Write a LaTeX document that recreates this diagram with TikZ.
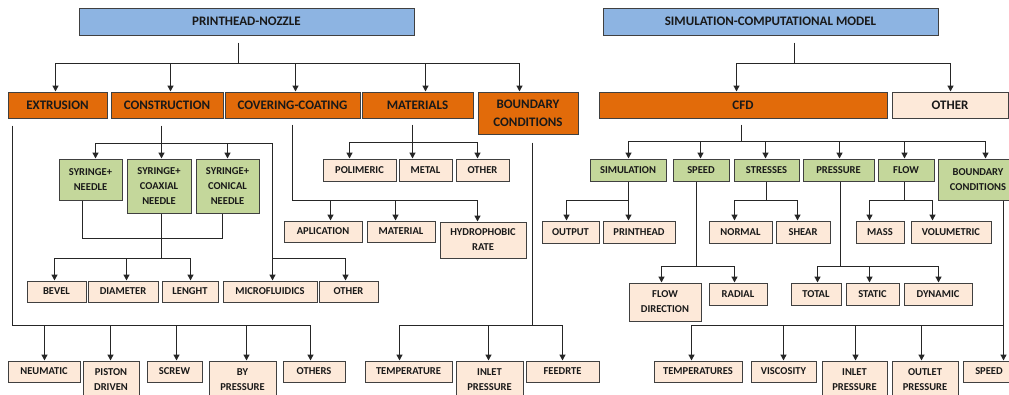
\documentclass[tikz,border=0pt]{standalone}
\usepackage{fontspec}
\setmainfont{Carlito}
\usetikzlibrary{calc,arrows.meta}
\definecolor{hblue}{HTML}{8DB4E2}
\definecolor{horange}{HTML}{E26B0A}
\definecolor{hgreen}{HTML}{C4D79B}
\definecolor{hpeach}{HTML}{FDE9D9}
\definecolor{bcol}{HTML}{404040}
\newcommand\hfont{\fontsize{9.75}{13.5}\selectfont\bfseries}
\newcommand\sfont{\fontsize{7.9}{11.25}\selectfont\bfseries}
\tikzset{
  box/.style={draw=bcol,line width=0.75pt,inner sep=0pt,align=center,text=black!90},
  head/.style={box,fill=hblue,font=\hfont},
  orange/.style={box,fill=horange,font=\hfont},
  peachbig/.style={box,fill=hpeach,font=\hfont},
  green/.style={box,fill=hgreen,font=\sfont},
  peach/.style={box,fill=hpeach,font=\sfont},
  line/.style={draw=black!85,line width=1pt},
  arr/.style={line,-{Triangle[length=4.5pt,width=4.5pt]}}
}
\newcommand\mybox[7][]{%
  \node[#1,minimum width={(#5-#3)*0.75pt},minimum height={(#6-#4)*0.75pt}] (#2) at ({(#3+#5)/2},{(#4+#6)/2}) {#7};
  \expandafter\xdef\csname bxx@#2\endcsname{#3}%
  \expandafter\xdef\csname bxy@#2\endcsname{#6}%
}
\newcommand\dropline[5]{%
  \edef\bxX{\csname bxx@#1\endcsname}\edef\bxY{\csname bxy@#1\endcsname}%
  \coordinate (#4) at ($(#1.south west)+({#2-\bxX},{#5-\bxY})$);
  \draw[line] ($(#1.south west)+({#2-\bxX},{#3-\bxY})$) -- (#4);
}
\newcommand\tochild[3]{%
  \edef\bxX{\csname bxx@#2\endcsname}%
  \draw[arr] (#1) -| ($(#2.north west)+({#3-\bxX},0)$);
}
\begin{document}
\begin{tikzpicture}[x=0.75pt,y=-0.75pt]
\useasboundingbox (0,0) rectangle (1009,394);
% ---------- left tree ----------
\mybox[head]{ph}{79}{8}{414}{35}{PRINTHEAD-NOZZLE}
\mybox[orange]{ext}{8}{92}{107}{118}{EXTRUSION}
\mybox[orange]{con}{111}{92}{223}{118}{CONSTRUCTION}
\mybox[orange]{cov}{225}{92}{360}{118}{COVERING-COATING}
\mybox[orange]{mat}{362}{92}{473}{118}{MATERIALS}
\mybox[orange]{bcl}{478}{92}{578}{134}{BOUNDARY\\CONDITIONS}
\mybox[green]{sn}{59}{159}{122}{200}{SYRINGE+\\NEEDLE}
\mybox[green]{sc}{127}{159}{191}{213}{SYRINGE+\\COAXIAL\\NEEDLE}
\mybox[green]{scn}{196}{159}{259}{213}{SYRINGE+\\CONICAL\\NEEDLE}
\mybox[peach]{pol}{323}{159}{396}{181}{POLIMERIC}
\mybox[peach]{met}{399}{159}{452}{181}{METAL}
\mybox[peach]{otm}{456}{159}{509}{181}{OTHER}
\mybox[peach]{apl}{284}{221}{362}{242}{APLICATION}
\mybox[peach]{mtl}{367}{221}{435}{242}{MATERIAL}
\mybox[peach]{hyd}{440}{222}{526}{258}{HYDROPHOBIC\\RATE}
\mybox[peach]{bev}{27}{281}{86}{302}{BEVEL}
\mybox[peach]{dia}{88}{281}{158}{302}{DIAMETER}
\mybox[peach]{len}{162}{281}{218}{302}{LENGHT}
\mybox[peach]{mic}{223}{281}{317}{302}{MICROFLUIDICS}
\mybox[peach]{otc}{319}{281}{378}{302}{OTHER}
\mybox[peach]{neu}{8}{361}{80}{382}{NEUMATIC}
\mybox[peach]{pis}{83}{361}{139}{399}{PISTON\\DRIVEN}
\mybox[peach]{scr}{147}{361}{202}{382}{SCREW}
\mybox[peach]{byp}{209}{361}{276}{399}{BY\\PRESSURE}
\mybox[peach]{ote}{283}{361}{345}{382}{OTHERS}
\mybox[peach]{tem}{365}{361}{452}{382}{TEMPERATURE}
\mybox[peach]{inl}{456}{361}{523}{399}{INLET\\PRESSURE}
\mybox[peach]{fee}{526}{361}{599}{382}{FEEDRTE}
% ---------- right tree ----------
\mybox[head]{scm}{603}{8}{938}{35}{SIMULATION-COMPUTATIONAL MODEL}
\mybox[orange]{cfd}{599}{92}{887}{118}{CFD}
\mybox[peachbig]{oth}{892}{92}{1008}{118}{OTHER}
\mybox[green]{sim}{590}{159}{666}{181}{SIMULATION}
\mybox[green]{spd}{673}{159}{729}{181}{SPEED}
\mybox[green]{str}{734}{159}{799}{181}{STRESSES}
\mybox[green]{pre}{803}{159}{874}{181}{PRESSURE}
\mybox[green]{flo}{878}{159}{934}{181}{FLOW}
\mybox[green]{bcr}{938}{159}{1018}{200}{BOUNDARY\\CONDITIONS}
\mybox[peach]{out}{542}{221}{599}{243}{OUTPUT}
\mybox[peach]{prh}{603}{221}{675}{243}{PRINTHEAD}
\mybox[peach]{nor}{709}{221}{772}{243}{NORMAL}
\mybox[peach]{she}{776}{221}{830}{243}{SHEAR}
\mybox[peach]{mas}{856}{221}{904}{243}{MASS}
\mybox[peach]{vol}{911}{221}{991}{243}{VOLUMETRIC}
\mybox[peach]{fdr}{629}{283}{701}{321}{FLOW\\DIRECTION}
\mybox[peach]{rad}{709}{283}{767}{305}{RADIAL}
\mybox[peach]{tot}{791}{283}{841}{305}{TOTAL}
\mybox[peach]{sta}{846}{283}{899}{305}{STATIC}
\mybox[peach]{dyn}{904}{283}{972}{305}{DYNAMIC}
\mybox[peach]{tmp}{654}{361}{742}{382}{TEMPERATURES}
\mybox[peach]{vis}{751}{361}{816}{382}{VISCOSITY}
\mybox[peach]{inr}{822}{361}{887}{399}{INLET\\PRESSURE}
\mybox[peach]{ous}{892}{361}{958}{399}{OUTLET\\PRESSURE}
\mybox[peach]{spe}{963}{361}{1015}{382}{SPEED}
% ---------- connectors left ----------
\dropline{ph}{239}{42}{phh}{63}
\tochild{phh}{ext}{56}\tochild{phh}{con}{171}\tochild{phh}{cov}{296}\tochild{phh}{mat}{426}\tochild{phh}{bcl}{520}
\dropline{ext}{13}{125}{exth}{325}
\tochild{exth}{neu}{45}\tochild{exth}{pis}{111}\tochild{exth}{scr}{177}\tochild{exth}{byp}{247}\tochild{exth}{ote}{311}
\dropline{con}{162}{125}{conh}{143}
\tochild{conh}{sn}{96}\tochild{conh}{sc}{162}\tochild{conh}{scn}{228}
\coordinate (conhb) at ($(conh)+(111,115)$);
\draw[line] (conh) -| (conhb);
\tochild{conhb}{mic}{273}\tochild{conhb}{otc}{346}
\draw[line] ($(sn.south west)+(24,0)$) |- ($(scn.south west)+(27,25)$) -- ($(scn.south west)+(27,0)$);
\dropline{sc}{162}{213}{sch}{258}
\tochild{sch}{bev}{55}\tochild{sch}{dia}{127}\tochild{sch}{len}{191}
\dropline{cov}{293}{124}{covh}{200}
\tochild{covh}{apl}{331}\tochild{covh}{mtl}{396}\tochild{covh}{hyd}{478}
\dropline{mat}{413}{124}{math}{142}
\tochild{math}{pol}{350}\tochild{math}{met}{413}\tochild{math}{otm}{478}
\dropline{bcl}{533}{142}{bclh}{325}
\tochild{bclh}{tem}{400}\tochild{bclh}{inl}{489}\tochild{bclh}{fee}{563}
% ---------- connectors right ----------
\dropline{scm}{795}{42}{scmh}{63}
\tochild{scmh}{cfd}{737}\tochild{scmh}{oth}{951}
\dropline{cfd}{742}{124}{cfdh}{141}
\tochild{cfdh}{sim}{629}\tochild{cfdh}{spd}{701}\tochild{cfdh}{str}{766}\tochild{cfdh}{pre}{840}\tochild{cfdh}{flo}{905}\tochild{cfdh}{bcr}{986}
\dropline{sim}{629}{181}{simh}{200}
\tochild{simh}{out}{567}\tochild{simh}{prh}{629}
\dropline{str}{767}{181}{strh}{200}
\tochild{strh}{nor}{735}\tochild{strh}{she}{798}
\dropline{flo}{905}{181}{floh}{200}
\tochild{floh}{mas}{870}\tochild{floh}{vol}{933}
\dropline{spd}{697}{181}{spdh}{266}
\tochild{spdh}{fdr}{662}\tochild{spdh}{rad}{735}
\dropline{pre}{841}{181}{preh}{266}
\tochild{preh}{tot}{818}\tochild{preh}{sta}{870}\tochild{preh}{dyn}{939}
\dropline{bcr}{1004}{200}{bcrh}{325}
\tochild{bcrh}{tmp}{692}\tochild{bcrh}{vis}{784}\tochild{bcrh}{inr}{856}\tochild{bcrh}{ous}{922}\tochild{bcrh}{spe}{1004}
\end{tikzpicture}
\end{document}
